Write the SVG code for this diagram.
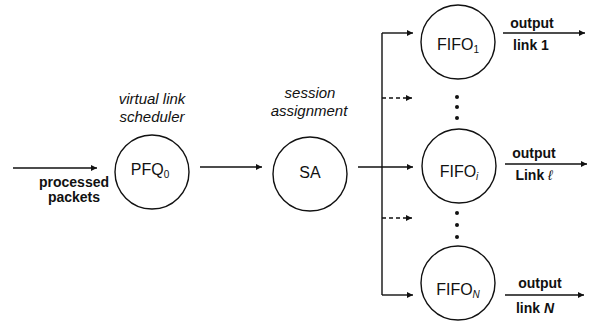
<svg xmlns="http://www.w3.org/2000/svg" width="592" height="323" viewBox="0 0 592 323">
<defs>
<marker id="ah" viewBox="0 0 10 10" refX="10" refY="5" markerWidth="8" markerHeight="6" markerUnits="userSpaceOnUse" orient="auto">
<path d="M0,0 L10,5 L0,10 z" fill="#111"/>
</marker>
</defs>
<style>
.node{fill:#fff;stroke:#111;stroke-width:1.4}
.lab{font-family:"Liberation Sans",Arial,sans-serif;font-size:16px;fill:#111;text-anchor:middle}
.it{font-family:"Liberation Sans",Arial,sans-serif;font-size:15px;font-style:italic;fill:#111;text-anchor:middle}
.bd{font-family:"Liberation Sans",Arial,sans-serif;font-size:14px;font-weight:bold;fill:#111;text-anchor:middle}
.ln{fill:none;stroke:#111;stroke-width:1.4}
.arr{fill:none;stroke:#111;stroke-width:1.4;marker-end:url(#ah)}
.dash{stroke-dasharray:4 3}
.dot{fill:#111}
</style>
<rect width="592" height="323" fill="#fff"/>
<g id="connectors">
<line class="arr" x1="13" y1="168" x2="97" y2="168"/>
<line class="arr" x1="200" y1="167" x2="262" y2="167"/>
<line class="arr" x1="358" y1="167" x2="413" y2="167"/>
<polyline class="ln" points="382,33 382,295"/>
<line class="arr" x1="382" y1="33" x2="413" y2="33"/>
<line class="arr dash" x1="382" y1="98" x2="412" y2="98"/>
<line class="arr dash" x1="382" y1="218" x2="412" y2="218"/>
<line class="arr" x1="382" y1="295" x2="413" y2="295"/>
<line class="arr" x1="503" y1="33" x2="585" y2="33"/>
<line class="arr" x1="505" y1="164" x2="587" y2="164"/>
<line class="arr" x1="505" y1="295" x2="584" y2="295"/>
</g>
<g id="input-label">
<text class="bd" x="74" y="187">processed</text>
<text class="bd" x="74" y="202">packets</text>
</g>
<g id="pfq0">
<text class="it" x="152" y="104">virtual link</text>
<text class="it" x="152" y="122">scheduler</text>
<circle class="node" cx="152" cy="172" r="37"/>
<text class="lab" x="150" y="175">PFQ<tspan font-size="10" dy="3">0</tspan></text>
</g>
<g id="sa">
<text class="it" x="310" y="98">session</text>
<text class="it" x="309" y="116">assignment</text>
<circle class="node" cx="310" cy="174" r="37"/>
<text class="lab" x="310" y="178">SA</text>
</g>
<g id="fifo1">
<circle class="node" cx="458" cy="42" r="37"/>
<text class="lab" x="458" y="50">FIFO<tspan font-size="10" dy="3">1</tspan></text>
</g>
<g id="dots1">
<circle class="dot" cx="457" cy="97" r="2"/>
<circle class="dot" cx="457" cy="107" r="2"/>
<circle class="dot" cx="457" cy="118" r="2"/>
</g>
<g id="fifoi">
<circle class="node" cx="459" cy="166" r="37"/>
<text class="lab" x="459" y="177">FIFO<tspan font-size="10" font-style="italic" dy="3">i</tspan></text>
</g>
<g id="dots2">
<circle class="dot" cx="457" cy="213" r="2"/>
<circle class="dot" cx="457" cy="225" r="2"/>
<circle class="dot" cx="457" cy="237" r="2"/>
</g>
<g id="fifon">
<circle class="node" cx="458" cy="283" r="37"/>
<text class="lab" x="458" y="295">FIFO<tspan font-size="10" font-style="italic" dy="3">N</tspan></text>
</g>
<g id="out-labels">
<text class="bd" x="532" y="28">output</text>
<text class="bd" x="531" y="50">link 1</text>
<text class="bd" x="534" y="158">output</text>
<text class="bd" x="534" y="180">Link <tspan font-weight="normal" font-style="italic">ℓ</tspan></text>
<text class="bd" x="540" y="288">output</text>
<text class="bd" x="535" y="313">link <tspan font-style="italic">N</tspan></text>
</g>
</svg>
